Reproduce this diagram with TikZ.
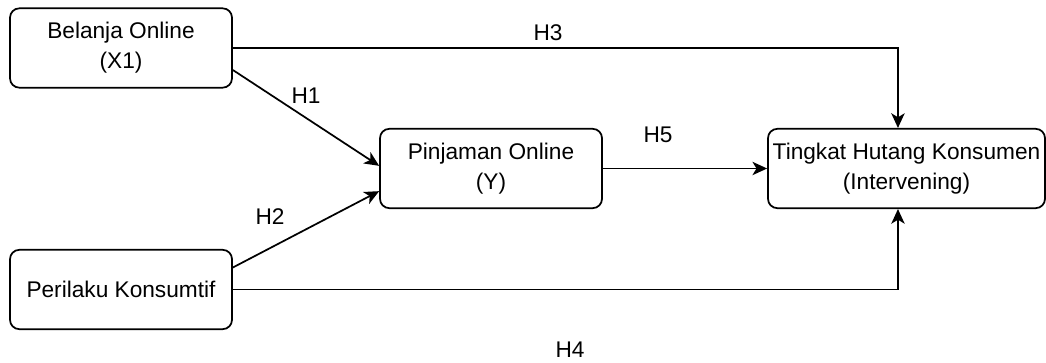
\documentclass[tikz,border=0pt]{standalone}
\usepackage{fontspec}
\setmainfont{Liberation Sans}
\usetikzlibrary{arrows.meta}

\begin{document}
\begin{tikzpicture}[x=0.75pt,y=0.75pt,yscale=-1,xscale=1,
	var/.style={draw, line width=1.3pt, rounded corners=7pt, align=center, inner sep=0.75pt,
		minimum width=166.5pt, minimum height=59.5pt, font=\fontsize{17}{22.5}\selectfont},
	link/.style={line width=1.3pt, -{Stealth[length=11pt,width=10pt,inset=3pt]}},
	hyp/.style={inner sep=0.75pt, font=\fontsize{17}{20}\selectfont}]
	%set diagram size
	\useasboundingbox (0,0) rectangle (1046,363);
	
	%Shape: Rounded Rect
	\node [var] (belanja) at (121,48) {Belanja Online\\(X1)};
	%Shape: Rounded Rect
	\node [var] (perilaku) at (121,289.5) {Perilaku Konsumtif};
	%Shape: Rounded Rect
	\node [var] (pinjaman) at (491,168.5) {Pinjaman Online\\(Y)};
	%Shape: Rounded Rect
	\node [var, minimum width=207.75pt] (hutang) at (906.5,168.5) {Tingkat Hutang Konsumen\\(Intervening)};
	
	%Straight Lines
	\draw [link] ([yshift=16.5pt]belanja.east) -- ([yshift=-2pt]pinjaman.west);
	\draw [link] ([yshift=-16.5pt]perilaku.east) -- ([yshift=17pt]pinjaman.west);
	\draw [link] (pinjaman.east) -- (hutang.west);
	%Elbow Lines
	\draw [link] (belanja.east) -| ([xshift=-6.4pt]hutang.north);
	\draw [link] (perilaku.east) -| ([xshift=-6.4pt]hutang.south);
	
	% Text Node
	\node [hyp] (h1) at (306,96) {H1};
	% Text Node
	\node [hyp] (h2) at (270,217) {H2};
	% Text Node
	\node [hyp] (h3) at (548,33) {H3};
	% Text Node
	\node [hyp] (h4) at (570,350) {H4};
	% Text Node
	\node [hyp] (h5) at (658,135) {H5};
	
\end{tikzpicture}
\end{document}
